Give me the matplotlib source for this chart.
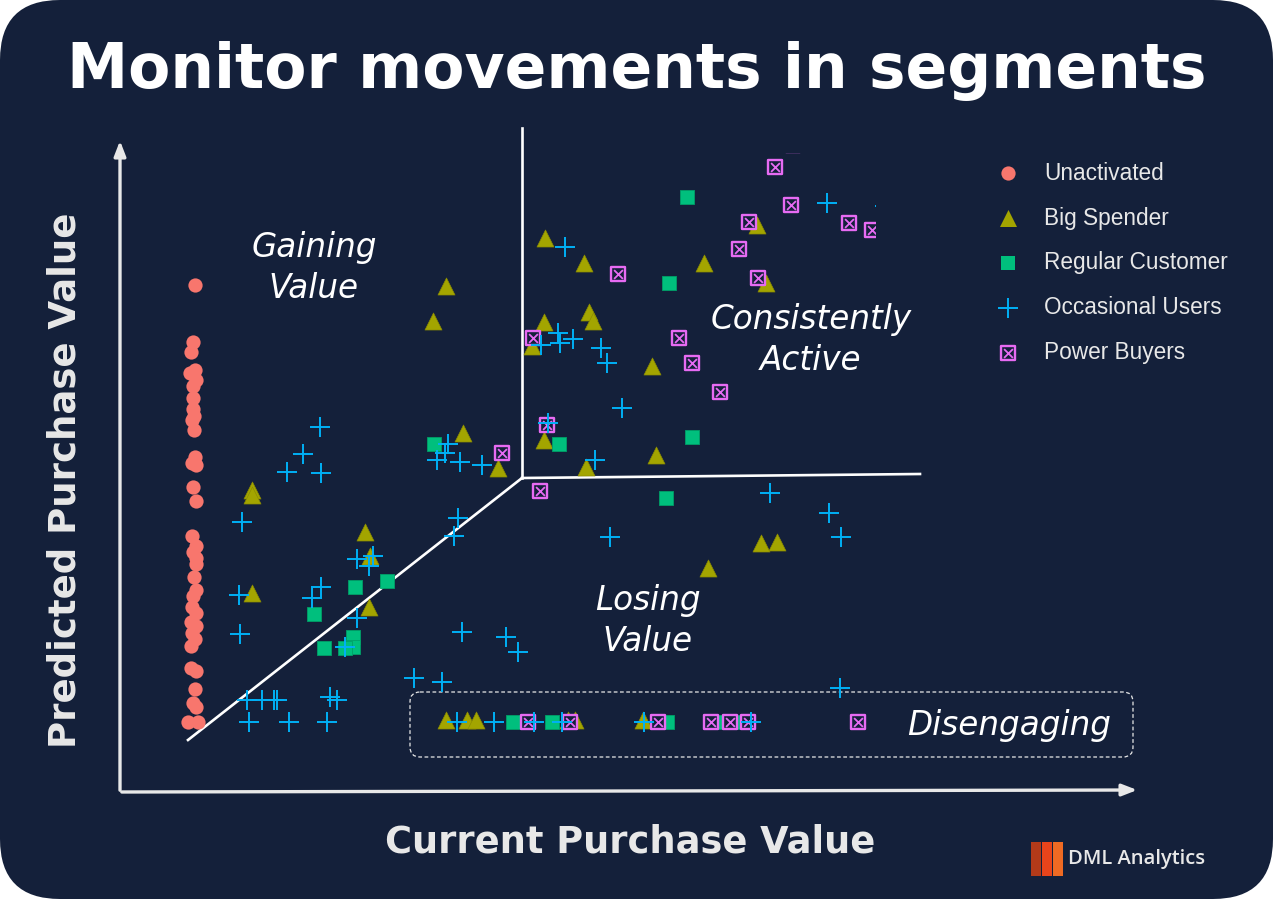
import matplotlib.pyplot as plt
from matplotlib.patches import FancyBboxPatch, Rectangle

# segment data: x = current purchase value, y = predicted purchase value
unact_x = [75, 73, 71, 75, 70, 76, 73, 73, 73, 74, 72, 74, 75, 72, 76, 73, 76, 72, 76, 73,
           76, 76, 74, 76, 73, 72, 76, 71, 76, 72, 75, 71, 71, 76, 75, 73, 76, 68, 78]
unact_y = [507, 450, 440, 422, 419, 412, 406, 394, 383, 376, 372, 362, 335, 329, 327, 305, 291, 256, 246, 240,
           234, 228, 215, 202, 196, 185, 179, 170, 166, 159, 153, 146, 124, 121, 103, 89, 85, 70, 70]

big_x = [326, 313, 425, 464, 584, 637, 646, 469, 473, 424, 412, 532, 343, 424, 466, 536, 378,
         132, 132, 245, 250, 132, 249, 588, 641, 657, 326, 347, 356, 448, 455, 523]
big_y = [506, 471, 554, 529, 529, 567, 509, 480, 471, 470, 446, 426, 359, 352, 325, 337, 324,
         302, 297, 260, 236, 199, 185, 224, 249, 250, 72, 72, 72, 72, 72, 72]

reg_x = [567, 549, 314, 439, 572, 546, 267, 235, 194, 204, 233, 233, 225, 393, 432, 547, 600, 618]
reg_y = [595, 509, 348, 348, 355, 294, 211, 205, 178, 144, 155, 145, 144, 70, 70, 70, 70, 70]

occ_x = [445, 707, 765, 438, 440, 453, 421, 481, 487, 502, 428, 475, 650, 709, 721, 490,
         200, 183, 167, 201, 328, 325, 317, 340, 362, 122, 338, 334, 237, 253, 249, 119,
         201, 192, 237, 120, 225, 342, 386, 398, 294, 322, 127, 142, 154, 157, 210, 217,
         129, 169, 207, 720, 337, 374, 414, 442, 524, 631]
occ_y = [545, 589, 586, 459, 449, 453, 447, 444, 429, 384, 369, 332, 299, 279, 255, 255,
         365, 338, 320, 319, 348, 339, 332, 330, 327, 270, 274, 256, 233, 236, 226, 197,
         205, 194, 174, 158, 145, 160, 155, 140, 114, 110, 92, 92, 92, 92, 95, 92,
         70, 70, 70, 104, 70, 70, 70, 70, 70, 70]

pow_x = [655, 673, 671, 629, 729, 752, 619, 638, 498, 559, 572, 600, 413, 427, 382, 420,
         408, 450, 538, 591, 610, 628, 738]
pow_y = [625, 647, 587, 570, 569, 562, 543, 514, 518, 454, 429, 400, 454, 367, 339, 301,
         70, 70, 70, 70, 70, 70, 70]

labels = ['Unactivated', 'Big Spender', 'Regular Customer', 'Occasional Users', 'Power Buyers']
colors = ['#F8766D', '#A3A500', '#00BF7D', '#00B0F6', '#E76BF3']

navy = '#14203a'
light = '#e8e8e8'

fig = plt.figure(figsize=(12.73, 8.99), dpi=100, facecolor='white')

# full-figure layer for the card, arrows, titles and legend (pixel units)
bg = fig.add_axes([0, 0, 1, 1])
bg.set_xlim(0, 1273)
bg.set_ylim(899, 0)
bg.set_axis_off()
bg.add_patch(FancyBboxPatch((0, 0), 1273, 899, boxstyle='round,pad=0,rounding_size=60',
                            fc=navy, ec='none'))

# axis arrows
bg.annotate('', xy=(120, 138), xytext=(120, 793),
            arrowprops=dict(arrowstyle='-|>,head_length=0.9,head_width=0.35', lw=2.4, color=light))
bg.annotate('', xy=(1140, 790), xytext=(119, 792),
            arrowprops=dict(arrowstyle='-|>,head_length=0.9,head_width=0.35', lw=2.4, color=light))

bg.text(637, 71, 'Monitor movements in segments', color='white', fontsize=44.3,
        fontweight='bold', ha='center', va='center')
bg.text(65, 480, 'Predicted Purchase Value', color=light, fontsize=26.7, fontweight='bold',
        rotation=90, ha='center', va='center')
bg.text(630, 842, 'Current Purchase Value', color=light, fontsize=26.5, fontweight='bold',
        ha='center', va='center')

# disengaging box
bg.add_patch(FancyBboxPatch((410, 692), 723, 65, boxstyle='round,pad=0,rounding_size=10',
                            fc='none', ec=light, lw=0.9, ls=(0, (3, 2))))

for txt, x, y in [('Gaining\nValue', 314, 268), ('Consistently\nActive', 811, 340),
                  ('Losing\nValue', 648, 621), ('Disengaging', 1009, 725)]:
    bg.text(x, y, txt, color='white', fontsize=23.5, style='italic',
            ha='center', va='center', linespacing=1.27)

# legend
leg_y = [173, 218, 263, 308, 353]
markers = ['o', '^', 's', '+', 's']
sizes = [105, 150, 95, 200, 100]
for i, lab in enumerate(labels):
    if i == 4:
        bg.scatter(1008, leg_y[i], marker='s', s=100, facecolor=navy, edgecolor=colors[i], lw=1.7)
        bg.scatter(1008, leg_y[i], marker='x', s=40, color=colors[i], lw=1.3)
    elif i == 3:
        bg.scatter(1008, leg_y[i], marker='+', s=sizes[i], color=colors[i], lw=1.4)
    else:
        bg.scatter(1008, leg_y[i], marker=markers[i], s=sizes[i], color=colors[i], lw=0)
    bg.text(1044, leg_y[i], lab, color=light, fontsize=16.3, family='Liberation Sans',
            ha='left', va='center')

# logo
for k, c in enumerate(['#b33a19', '#e8441b', '#ef6a23']):
    bg.add_patch(Rectangle((1031 + k * 11, 842), 10, 34, fc=c, ec='none'))
bg.text(1068, 859, 'DML Analytics', color=light, fontsize=14.5, family='Open Sans',
        fontweight='semibold', ha='left', va='center')

# scatter layer
ax = fig.add_axes([120 / 1273, 107 / 899, 755 / 1273, 639 / 899])
ax.set_xlim(0, 755)
ax.set_ylim(0, 639)
ax.set_axis_off()
ax.patch.set_alpha(0)

# segment divider lines
ax.plot([402, 402], [314, 664], color='white', lw=1.9, clip_on=False)
ax.plot([402, 800], [314, 318], color='white', lw=1.9, clip_on=False)
ax.plot([402, 68], [314, 52], color='white', lw=1.9, clip_on=False)

ax.scatter(unact_x, unact_y, marker='o', s=105, color=colors[0], lw=0, zorder=3)
ax.scatter(big_x, big_y, marker='^', s=150, color=colors[1], edgecolor='#8c8c00', lw=0.5, zorder=3)
ax.scatter(reg_x, reg_y, marker='s', s=95, color=colors[2], edgecolor='#00a068', lw=0.6, zorder=3)
ax.scatter(pow_x, pow_y, marker='s', s=100, facecolor=navy, edgecolor=colors[4], lw=1.7, zorder=3)
ax.scatter(pow_x, pow_y, marker='x', s=40, color=colors[4], lw=1.3, zorder=3)
ax.scatter(occ_x, occ_y, marker='+', s=200, color=colors[3], lw=1.4, zorder=4)

fig.savefig('out.png', dpi=100, facecolor='white')
